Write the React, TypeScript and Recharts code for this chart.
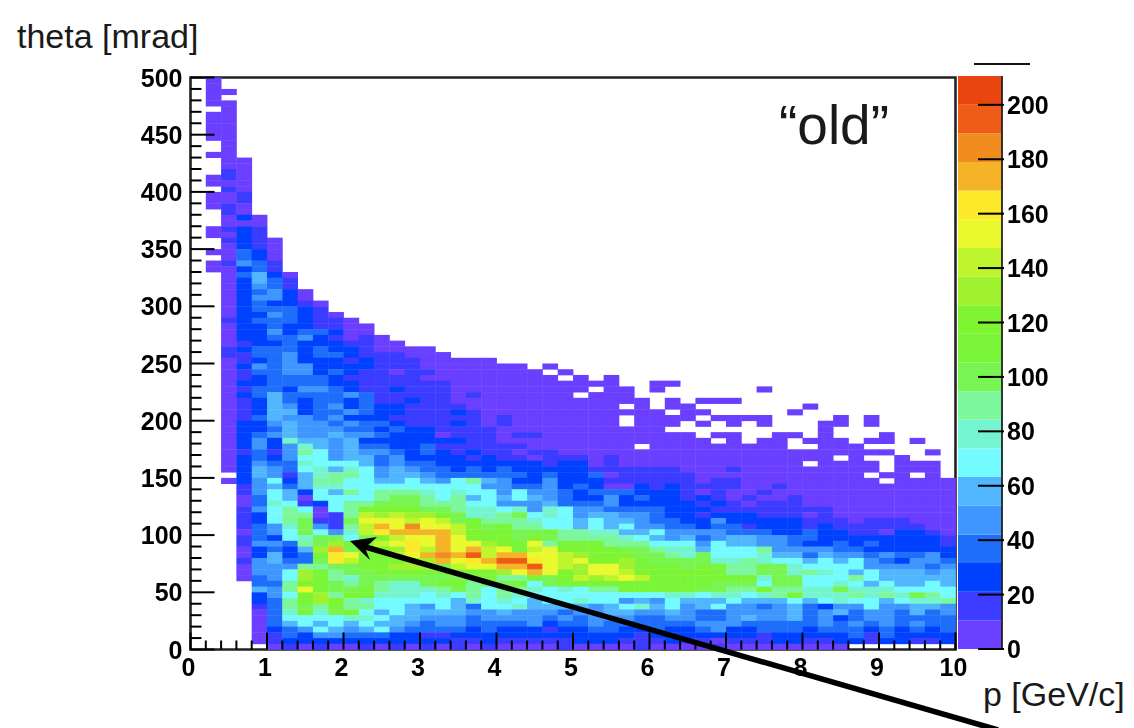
import React from "react";
import {
  ScatterChart,
  Scatter,
  XAxis,
  YAxis,
  ReferenceArea,
  BarChart,
  Bar,
} from "recharts";

// colour band of every bin.
// one string per theta bin (top = 495-500 mrad), one char per p bin (0.2 GeV/c),
// 0-9a-j = band number, "." = empty bin. Blanks only group the columns by ten.
const thetaRows = [
  ".0",
  ".0",
  ".00",
  ".0",
  ".00",
  "..0",
  ".00",
  ".00",
  ".00",
  ".00",
  ".00",
  "..0",
  "..0",
  ".00",
  "..00",
  "..00",
  "..10",
  ".010",
  ".000",
  "..10",
  ".001",
  ".001",
  ".010",
  "..10",
  "..020",
  "..000",
  ".0121",
  ".0021",
  "..1210",
  "..0210",
  ".00320",
  "..0320",
  ".01431",
  ".00231",
  "..03520",
  "..02531",
  "..02431",
  "..023420",
  "..024420",
  "..0232210",
  "..0233321",
  "..02243210",
  "..12333211 0",
  "..02232211 00",
  "..02242332 00",
  "..02233421 010",
  "..01223222 1100",
  "..12333232 210000",
  "..11334233 2111000",
  "..01234222 1211100000",
  "..02434422 2211100000 00.0",
  "..01334423 2110110000 000.0",
  "..01233332 1111100000 0000.0.0",
  "..02233332 2111111000 00000000.. 00",
  "..01332443 2112111000 000000.00. 0......0",
  "..02353333 4311111010 00000.000.",
  "..01253233 2311211000 0000000000 .0.000",
  "..01254234 2322111100 00000000.0 .00....... 0",
  "..01255233 4322111210 0000000000 0.00.....0",
  "..01354434 2221111110 10000000.0 000.0000.. ..0.0",
  "..02245443 4332111210 10000000.0 00.0.0.0.. .00.0",
  "..02235444 3323221111 0000000000 0......... .0",
  "..02345445 4432220111 0110000000 000.00..00 .0...0",
  "..02427554 5222222211 0000000000 0000.0.00. 000.00.0",
  "..02424754 5332231111 110000000. 000000000. .000",
  "..01314864 5443232121 1011000000 0000000000 000000..0.",
  "..02324664 5534222212 1101110100 0000000000 00.0..0...",
  "..02433766 6534332222 2221220100 0000000000 .0000.000.",
  "..02543675 7645433232 3222221111 1100010000 00000.000.",
  "...2541578 8645543333 3323223011 1110000000 0000.00.0.",
  "..02462588 6655654685 4224222111 1110110000 00000.0000",
  "...1453577 6666666664 4334232002 1211110010 0000000000",
  "...1465265 8688876766 4644323332 2210100100 0000000000",
  "...0365066 6689986856 5654322423 2212101001 0000000000",
  "...0376126 8899988866 4445333422 2221210111 0000000000",
  "...1468606 8bbbb99877 6747644333 3222111111 1100000000",
  "...1268801 8dcdcca977 8967645544 3221222111 0100000000",
  "...1268911 9eeeded9a8 8876656554 3322422222 1110111000",
  "...1347941 8dgeheeda9 a886656564 4332331222 1211111100",
  "...0346964 7dfggggdba a99a887755 6444433322 3221102210",
  "...1326799 69bdeegeba b9b9888876 5453455443 3222222221",
  "...144389c aadefegeec bae8aaa888 6664655443 2232322221",
  "...02325cg 9abcfdgegd eadebaba99 8775666844 4433222222",
  "...02523af eaadeghgid ggeedcbbb9 9879666755 3544343342",
  "...145339f daabccgefg iifedebbca 9999778766 5656432443",
  "...0444889 9abccc9dee ggiedceeca aa9aa88997 6666444434",
  "...0446ca8 99aabaaaab cegebceedb aabba88997 8765655545",
  "...0346ca8 79999999aa 88a9bdcded aaaabaa799 6668655555",
  "....338ba9 898779aa89 9a69aaaaaa aaaa999699 6676565565",
  "....548ea9 9a87778986 88767688aa aaa9988a88 7797776666",
  "....246bc8 aa77767686 8766666666 677677678a 7778787986",
  "....238acb 8766666576 7656676645 4655565556 5676656778",
  "....13898a 8866546536 6755554567 5645644345 3244644554",
  "....037a79 a656555544 5444344554 4543344445 3453443534",
  "....036666 7765544434 4443434443 3443345445 3423443333",
  "....035656 5655434433 3342334333 3334443333 3434343433",
  "....023465 4564333323 2221223322 3223422333 2333232323",
  "....013244 3332211222 2222222221 2222222122 2223132222",
  "....012222 2222222112 1111122211 1211011122 1122122112",
  ".....01010 0101010101 0000100001 0000100000 000",
];

const bandColors = [
  "#6b3fff", "#3b3cff", "#0040ff", "#1f6dfb", "#3f96ff",
  "#52b6ff", "#74fbff", "#75f5cf", "#7df79b", "#78f552",
  "#7af53a", "#7ff532", "#a0f22e", "#bef52d", "#eaf82e",
  "#fde82a", "#f5b428", "#f08c20", "#ee5c18", "#e84510",
];

const pTicks = [
  0, 0.2, 0.4, 0.6, 0.8, 1, 1.2, 1.4, 1.6, 1.8, 2, 2.2, 2.4, 2.6, 2.8, 3, 3.2, 3.4, 3.6, 3.8, 4,
  4.2, 4.4, 4.6, 4.8, 5, 5.2, 5.4, 5.6, 5.8, 6, 6.2, 6.4, 6.6, 6.8, 7, 7.2, 7.4, 7.6, 7.8, 8,
  8.2, 8.4, 8.6, 8.8, 9, 9.2, 9.4, 9.6, 9.8, 10,
];
const thetaTicks = [
  0, 10, 20, 30, 40, 50, 60, 70, 80, 90, 100, 110, 120, 130, 140, 150, 160, 170, 180, 190, 200,
  210, 220, 230, 240, 250, 260, 270, 280, 290, 300, 310, 320, 330, 340, 350, 360, 370, 380, 390,
  400, 410, 420, 430, 440, 450, 460, 470, 480, 490, 500,
];
const countTicks = [0, 20, 40, 60, 80, 100, 120, 140, 160, 180, 200];

const P_BIN = 0.2;
const THETA_BIN = 5;
const COUNT_MAX = 210.6;
const BAND = COUNT_MAX / bandColors.length;

const bins = thetaRows.flatMap((row, r) =>
  row
    .replace(/ /g, "")
    .split("")
    .flatMap((c, i) =>
      c === "."
        ? []
        : [
            {
              p: (i + 0.5) * P_BIN,
              theta: 500 - (r + 0.5) * THETA_BIN,
              band: parseInt(c, 20),
            },
          ],
    ),
);

const colorBar = [
  Object.fromEntries(bandColors.map((_, i) => ["band" + i, BAND])),
];

const PLOT = { left: 190.5, right: 955.5, top: 77.5, bottom: 649.5 };
const binW = ((PLOT.right - PLOT.left) / 10) * P_BIN;
const binH = ((PLOT.bottom - PLOT.top) / 500) * THETA_BIN;

const labelFont = '"Liberation Sans", Arial, sans-serif';

const HeatCell = (props: any) => {
  const { cx, cy, payload } = props;
  return (
    <rect
      x={cx - binW / 2}
      y={cy - binH / 2}
      width={binW + 0.4}
      height={binH + 0.4}
      fill={bandColors[payload.band]}
    />
  );
};

const PTick = (props: any) => {
  const { x, payload } = props;
  const major = Number.isInteger(payload.value);
  return (
    <g>
      <line
        x1={x}
        x2={x}
        y1={PLOT.bottom}
        y2={PLOT.bottom - (major ? 17 : 9)}
        stroke="#000"
        strokeWidth={2}
      />
      {major && (
        <text
          x={x - 2}
          y={PLOT.bottom + 26}
          textAnchor="middle"
          fontFamily={labelFont}
          fontWeight="bold"
          fontSize={25}
          fill="#000"
        >
          {payload.value}
        </text>
      )}
    </g>
  );
};

const ThetaTick = (props: any) => {
  const { y, payload } = props;
  const major = payload.value % 50 === 0;
  return (
    <g>
      <line
        x1={PLOT.left}
        x2={PLOT.left + (major ? 24 : 11)}
        y1={y}
        y2={y}
        stroke="#000"
        strokeWidth={2}
      />
      {major && (
        <text
          x={PLOT.left - 8}
          y={y + 9}
          textAnchor="end"
          fontFamily={labelFont}
          fontWeight="bold"
          fontSize={25}
          fill="#000"
        >
          {payload.value}
        </text>
      )}
    </g>
  );
};

const CountTick = (props: any) => {
  const { x, y, payload } = props;
  return (
    <g>
      <line x1={x - 26} x2={x} y1={y} y2={y} stroke="#000" strokeWidth={2} />
      <text
        x={x + 3}
        y={y + 9}
        fontFamily={labelFont}
        fontWeight="bold"
        fontSize={25}
        fill="#000"
      >
        {payload.value}
      </text>
    </g>
  );
};

const App = () => {
  return (
    <div
      style={{
        position: "absolute",
        left: 0,
        top: 0,
        width: 1134,
        height: 728,
        background: "#fff",
        overflow: "hidden",
      }}
    >
      <div style={{ position: "absolute", left: 0, top: 0, filter: "blur(0.7px)" }}>
        <ScatterChart
          width={1134}
          height={728}
          margin={{ top: PLOT.top, right: 178.5, bottom: 48.5, left: 130.5 }}
        >
          <Scatter
            data={bins}
            dataKey="theta"
            shape={HeatCell}
            isAnimationActive={false}
          />
          <XAxis
            type="number"
            dataKey="p"
            domain={[0, 10]}
            ticks={pTicks}
            interval={0}
            height={30}
            tickSize={0}
            tickLine={false}
            axisLine={false}
            tick={PTick}
          />
          <YAxis
            type="number"
            dataKey="theta"
            domain={[0, 500]}
            ticks={thetaTicks}
            interval={0}
            width={60}
            tickSize={0}
            tickLine={false}
            axisLine={false}
            tick={ThetaTick}
          />
          <ReferenceArea
            x1={0}
            x2={10}
            y1={0}
            y2={500}
            fill="none"
            stroke="#222"
            strokeWidth={2.6}
            ifOverflow="visible"
          />
        </ScatterChart>
      </div>

      <div style={{ position: "absolute", left: 958, top: 76, filter: "blur(0.7px)" }}>
        <BarChart
          width={176}
          height={603}
          data={colorBar}
          barCategoryGap={0}
          margin={{ top: 0, right: 72, bottom: 30, left: 0 }}
        >
          <XAxis hide />
          <YAxis
            orientation="right"
            type="number"
            domain={[0, COUNT_MAX]}
            ticks={countTicks}
            interval={0}
            width={60}
            tickSize={0}
            tickLine={false}
            axisLine={{ stroke: "#222", strokeWidth: 1.8 }}
            tick={CountTick}
          />
          {bandColors.map((color, i) => (
            <Bar
              key={color}
              dataKey={"band" + i}
              stackId="z"
              fill={color}
              isAnimationActive={false}
            />
          ))}
        </BarChart>
      </div>

      <svg
        width={1134}
        height={728}
        style={{ position: "absolute", left: 0, top: 0, pointerEvents: "none" }}
      >
        <g fontFamily={labelFont} fill="#1a1a1a">
          <text x={17} y={48} fontSize={34}>
            theta [mrad]
          </text>
          <text x={779} y={144} fontSize={55}>
            “old”
          </text>
          <text x={983} y={706} fontSize={34}>
            p [GeV/c]
          </text>
        </g>
        <line x1={974} x2={1030} y1={64} y2={64} stroke="#111" strokeWidth={2} />
        <line x1={362} y1={546} x2={998} y2={730} stroke="#000" strokeWidth={5.5} />
        <polygon points="350,541 377,537 365,548 370,560" fill="#000" />
      </svg>
    </div>
  );
};

export default App;
